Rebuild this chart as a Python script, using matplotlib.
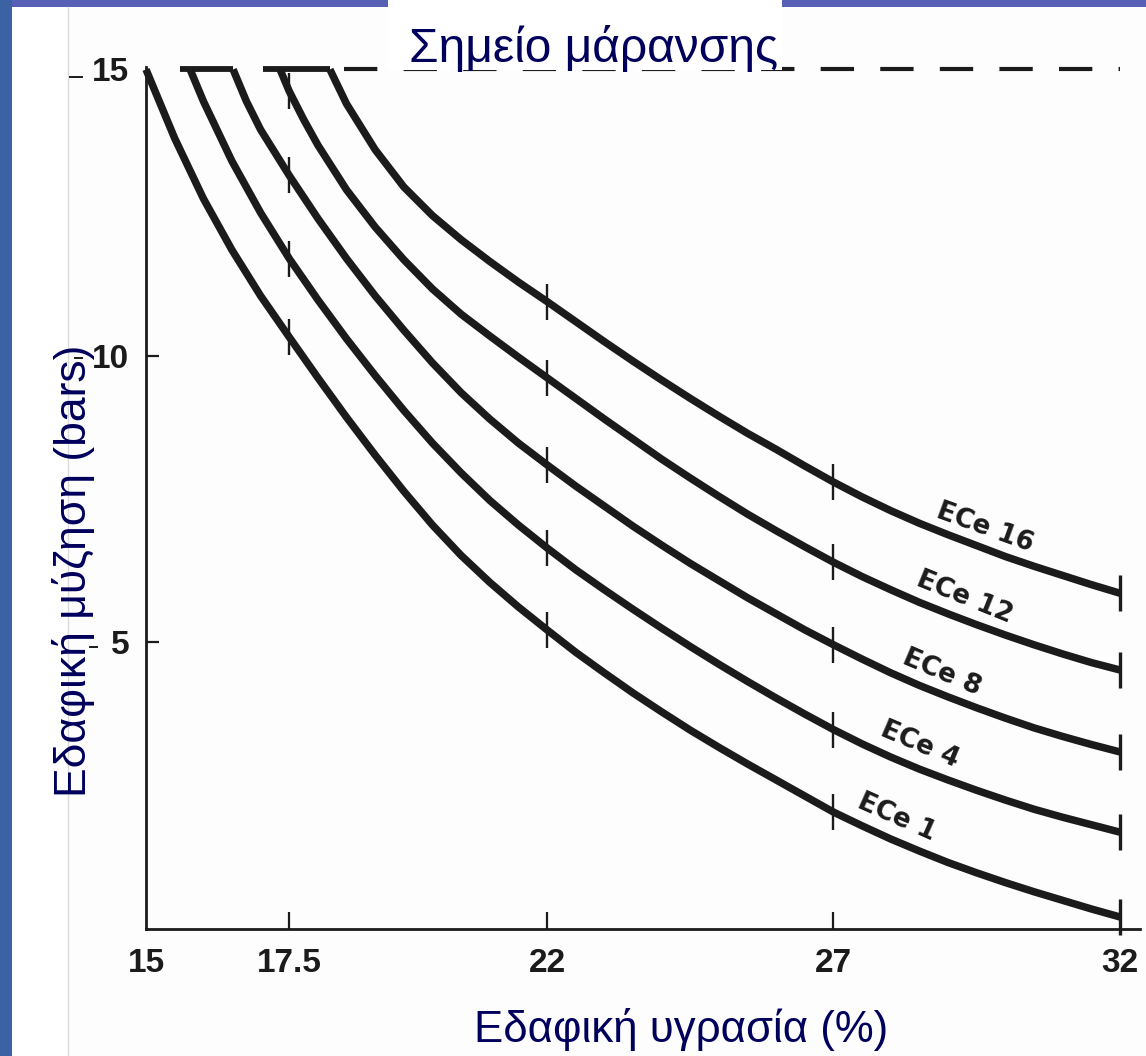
import matplotlib
matplotlib.use("Agg")
import matplotlib.pyplot as plt
from matplotlib.patches import Rectangle
from matplotlib.lines import Line2D

# ---------------- data ----------------
ece1_x = [15, 15.5, 16, 16.5, 17, 17.5, 18, 18.5, 19, 19.5, 20, 20.5, 21, 21.5, 22, 22.5, 23, 23.5, 24,
          24.5, 25, 25.5, 26, 26.5, 27, 27.5, 28, 28.5, 29, 29.5, 30, 30.5, 31, 31.5, 32]
ece1_y = [15, 13.8, 12.75, 11.85, 11.05, 10.33, 9.62, 8.93, 8.27, 7.64, 7.05, 6.52, 6.05, 5.62, 5.22, 4.83,
          4.47, 4.12, 3.79, 3.47, 3.17, 2.88, 2.60, 2.32, 2.04, 1.80, 1.57, 1.36, 1.16, 0.98, 0.81, 0.65,
          0.5, 0.35, 0.21]

ece4_x = [15.77, 16, 16.5, 17, 17.5, 18, 18.5, 19, 19.5, 20, 20.5, 21, 21.5, 22, 22.5, 23, 23.5, 24,
          24.5, 25, 25.5, 26, 26.5, 27, 27.5, 28, 28.5, 29, 29.5, 30, 30.5, 31, 31.5, 32]
ece4_y = [15, 14.45, 13.4, 12.5, 11.7, 10.98, 10.3, 9.66, 9.05, 8.48, 7.96, 7.48, 7.05, 6.65, 6.27, 5.92,
          5.58, 5.25, 4.93, 4.62, 4.32, 4.03, 3.75, 3.48, 3.23, 3.0, 2.79, 2.6, 2.42, 2.25, 2.09, 1.95,
          1.82, 1.69]

ece8_x = [16.52, 16.75, 17, 17.5, 18, 18.5, 19, 19.5, 20, 20.5, 21, 21.5, 22, 22.5, 23, 23.5, 24,
          24.5, 25, 25.5, 26, 26.5, 27, 27.5, 28, 28.5, 29, 29.5, 30, 30.5, 31, 31.5, 32]
ece8_y = [15, 14.45, 13.95, 13.15, 12.4, 11.7, 11.05, 10.45, 9.88, 9.36, 8.9, 8.48, 8.1, 7.73, 7.38, 7.03,
          6.7, 6.38, 6.08, 5.78, 5.5, 5.22, 4.96, 4.71, 4.47, 4.25, 4.05, 3.86, 3.68, 3.51, 3.36, 3.22,
          3.09]

ece12_x = [17.34, 17.5, 17.75, 18, 18.5, 19, 19.5, 20, 20.5, 21, 21.5, 22, 22.5, 23, 23.5, 24,
           24.5, 25, 25.5, 26, 26.5, 27, 27.5, 28, 28.5, 29, 29.5, 30, 30.5, 31, 31.5, 32]
ece12_y = [15, 14.62, 14.13, 13.68, 12.9, 12.25, 11.68, 11.17, 10.73, 10.35, 9.98, 9.62, 9.26, 8.9, 8.55,
           8.2, 7.87, 7.55, 7.24, 6.95, 6.67, 6.40, 6.15, 5.92, 5.70, 5.5, 5.31, 5.13, 4.96, 4.8, 4.65,
           4.52]

ece16_x = [18.21, 18.5, 19, 19.5, 20, 20.5, 21, 21.5, 22, 22.5, 23, 23.5, 24, 24.5, 25, 25.5, 26,
           26.5, 27, 27.5, 28, 28.5, 29, 29.5, 30, 30.5, 31, 31.5, 32]
ece16_y = [15, 14.4, 13.6, 12.95, 12.45, 12.03, 11.65, 11.29, 10.95, 10.6, 10.25, 9.91, 9.58, 9.26, 8.95,
           8.65, 8.37, 8.08, 7.8, 7.54, 7.3, 7.08, 6.88, 6.69, 6.5, 6.33, 6.17, 6.01, 5.86]

curve_names = ["ECe 1", "ECe 4", "ECe 8", "ECe 12", "ECe 16"]
curves_x = [ece1_x, ece4_x, ece8_x, ece12_x, ece16_x]
curves_y = [ece1_y, ece4_y, ece8_y, ece12_y, ece16_y]

mark_x = [17.5, 22, 27]          # small cross-ticks drawn on the curves
end_x = 32                        # end bar of each curve

wilting_level = 15
wilting_solid = [(15.6, 16.52), (17.05, 18.21)]   # solid top joins
wilting_dash = (18.45, 32)                        # dashed part

x_ticks = [15, 17.5, 22, 27, 32]
x_tick_labels = ["15", "17.5", "22", "27", "32"]
y_ticks = [5, 10, 15]
y_tick_labels = ["5", "10", "15"]

title_text = "Σημείο μάρανσης"
xlabel_text = "Εδαφική υγρασία (%)"
ylabel_text = "Εδαφική μύζηση (bars)"

# ---------------- layout / style ----------------
W, H = 1146, 1056
INK = "#1b1b1b"
NAVY = "#00005c"
label_pos = [(28.11, 1.95, -24), (28.51, 3.21, -23), (28.89, 4.47, -23),
             (29.29, 5.79, -22), (29.64, 7.0, -20)]
scan_dashes = [(70, 82, 77), (75, 82, 358), (90, 97, 647)]   # pixel x0, x1, y

plt.rcParams['font.family'] = ['Liberation Sans', 'DejaVu Sans']

fig = plt.figure(figsize=(W / 100, H / 100), dpi=100)
fig.patch.set_facecolor("white")

def px_rect(x0, y0, w, h, color, z):
    r = Rectangle((x0 / W, 1 - (y0 + h) / H), w / W, h / H, transform=fig.transFigure,
                  facecolor=color, edgecolor="none", zorder=z)
    fig.patches.append(r)

# blue slide background strips
px_rect(0, 0, W, 7, "#5660b4", -5)
px_rect(0, 0, 12, H, "#3a62a4", -4)
px_rect(68, 7, W - 68, H - 7, "#fdfdfd", -3)
fig.add_artist(Line2D([68 / W, 68 / W], [0, 1 - 7 / H], transform=fig.transFigure,
                      color="#dadada", lw=1.0, zorder=-2))
for x0, x1, yy in scan_dashes:
    fig.add_artist(Line2D([x0 / W, x1 / W], [1 - yy / H, 1 - yy / H], transform=fig.transFigure,
                          color=INK, lw=1.4, zorder=2))

ax = fig.add_axes([146 / W, 127 / H, 994 / W, 862.4 / H])
ax.set_facecolor("none")
ax.set_xlim(15, 32.35)
ax.set_ylim(0, 15.05)

for s in ["top", "right"]:
    ax.spines[s].set_visible(False)
for s in ["left", "bottom"]:
    ax.spines[s].set_linewidth(2.0)
    ax.spines[s].set_color(INK)

ax.set_xticks(x_ticks)
ax.set_xticklabels(x_tick_labels)
ax.set_yticks(y_ticks)
ax.set_yticklabels(y_tick_labels)
ax.tick_params(axis="x", direction="in", length=12, width=1.6, color=INK,
               labelsize=24, labelcolor=INK, pad=14)
ax.tick_params(axis="y", direction="in", length=9, width=1.6, color=INK,
               labelsize=24, labelcolor=INK, pad=12)
for lab in ax.get_xticklabels() + ax.get_yticklabels():
    lab.set_fontweight("bold")
xt = ax.xaxis.get_major_ticks()
xt[0].tick1line.set_visible(False)
xt[-1].tick1line.set_visible(False)
ax.yaxis.get_major_ticks()[-1].tick1line.set_visible(False)

# wilting point line
for a, b in wilting_solid:
    ax.plot([a, b], [wilting_level, wilting_level], color=INK, lw=4.2,
            solid_capstyle="butt", clip_on=False, zorder=3)
ax.plot(list(wilting_dash), [wilting_level, wilting_level], color=INK, lw=3.0,
        dashes=(8.0, 6.3), dash_capstyle="butt", clip_on=False, zorder=3)

# curves
for cx, cy in zip(curves_x, curves_y):
    ax.plot(cx, cy, color=INK, lw=5.4, solid_joinstyle="round",
            solid_capstyle="butt", clip_on=False, zorder=4)
    mx = [x for x in mark_x if x in cx]
    my = [cy[cx.index(x)] for x in mx]
    ax.plot(mx, my, linestyle="none", marker="|", markersize=26, mew=1.7,
            color=INK, clip_on=False, zorder=5)
    ax.plot([end_x], [cy[cx.index(end_x)]], linestyle="none", marker="|",
            markersize=26, mew=2.4, color=INK, clip_on=False, zorder=5)

# curve labels
for name, (lx, ly, rot) in zip(curve_names, label_pos):
    ax.text(lx, ly, name, rotation=rot, rotation_mode="anchor", ha="center",
            va="center", fontsize=19, fontweight="bold", color=INK, zorder=6,
            family=["DejaVu Sans"])

# title box and texts
px_rect(388, 0, 394, 70, "white", 10)
fig.text(594 / W, 1 - 62 / H, title_text, ha="center", va="baseline",
         fontsize=34.5, color=NAVY, zorder=11)
fig.text(681 / W, 1 - 1042 / H, xlabel_text, ha="center", va="baseline",
         fontsize=31.5, color=NAVY, zorder=11)
fig.text(86 / W, 1 - 571 / H, ylabel_text, ha="center", va="baseline",
         rotation=90, rotation_mode="anchor", fontsize=32, color=NAVY, zorder=11)

fig.savefig("out.png", dpi=100, facecolor=fig.get_facecolor())
